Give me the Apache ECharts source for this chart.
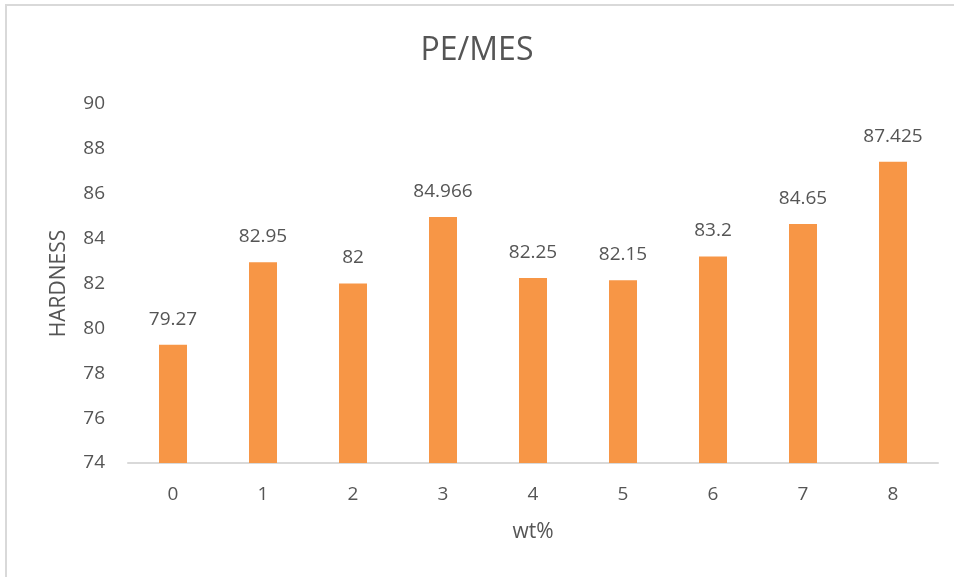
<!DOCTYPE html>
<html>
<head>
<meta charset="utf-8">
<script src="https://cdn.jsdelivr.net/npm/echarts@6/dist/echarts.min.js"></script>
<style>
  html, body { margin: 0; padding: 0; background: #fff; }
  #chart { width: 954px; height: 577px; }
</style>
</head>
<body>
<div id="chart"></div>
<script>
// wt% categories and measured hardness
const categories = ['0', '1', '2', '3', '4', '5', '6', '7', '8'];
const hardness = [79.27, 82.95, 82, 84.966, 82.25, 82.15, 83.2, 84.65, 87.425];

const textColor = '#555555';
const font = 'Open Sans';

let myChart = echarts.init(document.getElementById('chart'));
myChart.setOption({
  animation: false,
  backgroundColor: '#fff',
  graphic: [{
    type: 'rect',
    shape: { x: 6, y: 5, width: 1000, height: 1000 },
    style: { fill: 'none', stroke: '#d9d9d9', lineWidth: 2 }
  }],
  title: {
    text: 'PE/MES',
    left: 'center',
    top: 30,
    textStyle: { color: textColor, fontFamily: font, fontSize: 32, fontWeight: 'normal' }
  },
  grid: { left: 128, right: 16, top: 104, bottom: 114 },
  xAxis: {
    type: 'category',
    data: categories,
    name: 'wt%',
    nameLocation: 'middle',
    nameGap: 59,
    nameTextStyle: { color: textColor, fontFamily: font, fontSize: 21 },
    axisLine: { lineStyle: { color: '#d9d9d9', width: 2 } },
    axisTick: { show: false },
    axisLabel: { color: textColor, fontFamily: font, fontSize: 19, margin: 22 }
  },
  yAxis: {
    type: 'value',
    min: 74,
    max: 90,
    interval: 2,
    name: 'HARDNESS',
    nameLocation: 'middle',
    nameGap: 58,
    nameTextStyle: { color: textColor, fontFamily: font, fontSize: 21 },
    axisLine: { show: false },
    axisTick: { show: false },
    splitLine: { show: false },
    axisLabel: { color: textColor, fontFamily: font, fontSize: 19, margin: 23 }
  },
  series: [{
    type: 'bar',
    data: hardness,
    barWidth: 28,
    itemStyle: { color: '#F79646' },
    label: {
      show: true,
      position: 'top',
      distance: 16,
      color: textColor,
      fontFamily: font,
      fontSize: 19
    }
  }]
});
</script>
</body>
</html>
